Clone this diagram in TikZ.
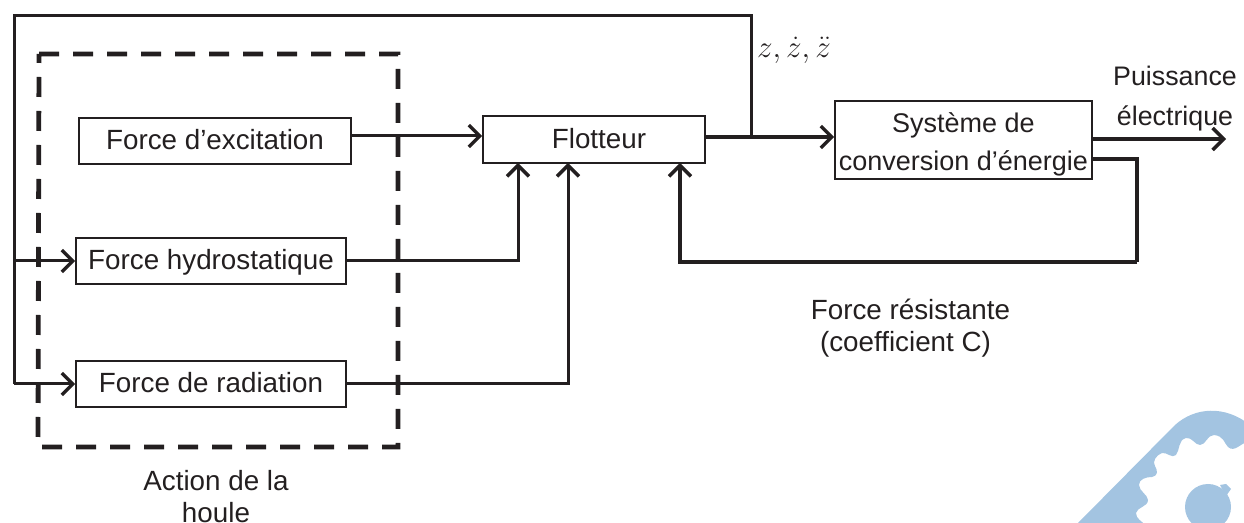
\documentclass[tikz,border=0pt]{standalone}
\usepackage{amsmath}
\usepackage{fontspec}
\setmainfont{Liberation Sans}
\usetikzlibrary{arrows.meta}
\definecolor{logoblue}{HTML}{A3C4E1}
\definecolor{inkblack}{HTML}{231F20}

\begin{document}
\begin{tikzpicture}[x = 0.5pt, y = -0.5pt, >={Straight Barb[length = 5.5pt, width = 11pt, line width = 1.7pt]},
    blockbox/.style = {draw = inkblack, line width = 0.8pt, inner sep = 0pt, text = inkblack, font = \fontsize{13.9}{16}\selectfont},
    singleline/.style = {text height = 12pt, text depth = 3pt},
    plainlabel/.style = {inner sep = 0pt, text = inkblack, font = \fontsize{13.9}{16}\selectfont, align = center},
    signal/.style = {draw = inkblack, line width = 1.5pt},
    heavysignal/.style = {draw = inkblack, line width = 1.8pt}]
  \useasboundingbox (0,0) rectangle (1244,523);

  % logo in the corner
  \begin{scope}
    \clip (0,0) rectangle (1244,523);
    \fill[logoblue] (1078,523) -- (1175,425) .. controls (1195,407) and (1225,405) .. (1250,425) -- (1250,441)
      .. controls (1240,443) and (1235,453) .. (1228,447) .. controls (1224,443) and (1224,436) .. (1214,435)
      .. controls (1207,435) and (1206,445) .. (1200,445) .. controls (1195,445) and (1192,437) .. (1186,438)
      .. controls (1178,440) and (1180,450) .. (1176,455) .. controls (1172,459) and (1167,452) .. (1162,453)
      .. controls (1156,455) and (1152,462) .. (1155,466) .. controls (1158,471) and (1158,476) .. (1152,477)
      .. controls (1146,477) and (1139,479) .. (1139,485) .. controls (1139,491) and (1148,495) .. (1148,500)
      .. controls (1148,507) and (1137,507) .. (1136,513) .. controls (1136,519) and (1142,521) .. (1145,525)
      -- (1078,525) -- cycle;
    \fill[logoblue] (1208,507) circle [radius = 23];
    \fill[logoblue] (1220,485) -- (1226,484) -- (1231,489) -- (1226,496) -- cycle;
  \end{scope}

  % wave action frame
  \draw[inkblack, line width = 2.4pt, dash pattern = on 10pt off 7pt, line cap = butt] (39,54) -- (398,54) -- (398,447) -- (38,447) -- cycle;

  % blocks
  \node[blockbox, singleline, minimum width = 136pt, minimum height = 23pt] (excitation) at (215,141) {Force d’excitation};
  \node[blockbox, singleline, minimum width = 135pt, minimum height = 23pt] (hydro) at (211,261) {Force hydrostatique};
  \node[blockbox, singleline, minimum width = 135pt, minimum height = 23pt] (radiation) at (211,384) {Force de radiation};
  \node[blockbox, text height = 11pt, text depth = 2pt, minimum width = 111pt, minimum height = 23.5pt] (flotteur) at (594,139.5) {\hspace*{5pt}Flotteur};
  \node[blockbox, align = center, font = \fontsize{13.5}{19}\selectfont, minimum width = 128.5pt, minimum height = 39pt] (conversion) at (963.5,140) {\rule{0pt}{14pt}Système de\\conversion d’énergie};

  % labels
  \node[inner sep = 0pt, text = inkblack, font = \fontsize{17.28}{18}\selectfont] (states) at (794,50) {\scalebox{0.9}{$z,\dot{z},\ddot{z}$}};
  \node[plainlabel, font = \fontsize{13.4}{20}\selectfont] (power) at (1175,99) {Puissance\\électrique};
  \node[plainlabel] (resist) at (905.5,328) {\hspace*{5pt}Force résistante\\(coefficient C)};
  \node[plainlabel] (wave) at (216,497) {Action de la\\houle};

  % ports and bends
  \coordinate (tap) at (751,137);
  \coordinate (topright) at (751,16);
  \coordinate (topleft) at (14,16);
  \coordinate (lowleft) at (14,384);
  \coordinate (portA) at (518,163);
  \coordinate (portB) at (568,163);
  \coordinate (portC) at (680,163);
  \coordinate (outfree) at (1226,139);
  \coordinate (backright) at (1137,262);

  % signals
  \draw[signal, ->] ([yshift = 2.5pt]excitation.east) -- (flotteur.west |- 0,136);
  \draw[signal, ->] (hydro.east) -| (portA);
  \draw[signal, ->] (radiation.east) -| (portB);
  \draw[heavysignal, ->] (flotteur.east |- tap) -- (conversion.west |- tap);
  \draw[signal] (tap) -- (topright) -- (topleft) -- (lowleft);
  \draw[signal, ->] (lowleft) -- (radiation.west);
  \draw[signal, ->] (hydro.west -| topleft) -- (hydro.west);
  \draw[heavysignal, ->] (conversion.east |- outfree) -- (outfree);
  \draw[heavysignal] (conversion.east |- 0,159) -| (backright);
  \draw[heavysignal, ->] (backright) -| (portC);
\end{tikzpicture}
\end{document}
